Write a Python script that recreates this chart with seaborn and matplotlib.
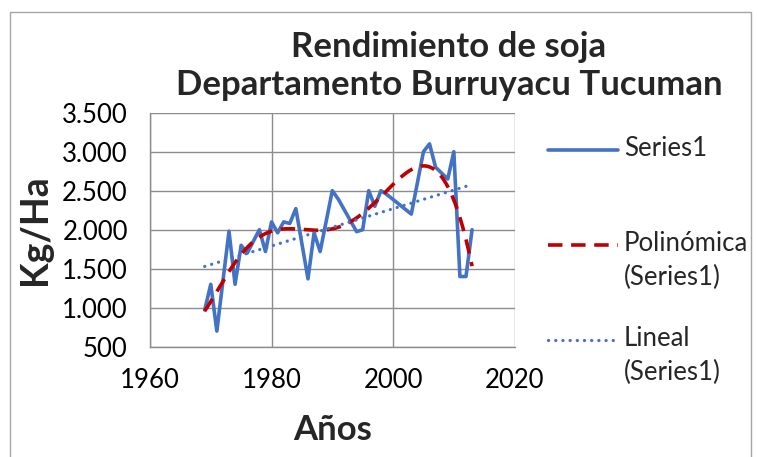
import numpy as np
import pandas as pd
import matplotlib
matplotlib.use("Agg")
import matplotlib.pyplot as plt
from matplotlib.lines import Line2D
from matplotlib.patches import Rectangle
from matplotlib.ticker import FuncFormatter
import seaborn as sns

# values (kg/ha per campaign year)
years = [1969, 1970, 1971, 1973, 1974, 1975, 1976, 1977, 1978, 1979,
         1980, 1981, 1982, 1983, 1984, 1986, 1987, 1988, 1990, 1991,
         1994, 1995, 1996, 1997, 1998, 1999, 2003, 2005, 2006, 2007,
         2009, 2010, 2011, 2012, 2013]
yields = [970, 1300, 700, 1980, 1300, 1800, 1700, 1850, 2000, 1720,
          2100, 1960, 2100, 2080, 2270, 1370, 1960, 1720, 2500, 2390,
          1975, 2000, 2500, 2300, 2500, 2450, 2200, 3000, 3100, 2800,
          2650, 3000, 1400, 1400, 2000]

title = "Rendimiento de soja\nDepartamento Burruyacu Tucuman"
legend_labels = ["Series1", "Polinómica\n(Series1)", "Lineal\n(Series1)"]

BLUE = "#4472C4"
RED = "#C00000"
GRID = "#8c8c8c"

sns.set_style("white")
plt.rcParams["font.family"] = ["Lato", "DejaVu Sans"]

df = pd.DataFrame({"year": years, "kg": yields})

# Excel style trendlines: polynomial (order 6) and linear
xc = df["year"] - 1990
poly = np.polyfit(xc, df["kg"], 6)
lin = np.polyfit(xc, df["kg"], 1)
xs = np.linspace(df["year"].min(), df["year"].max(), 300)
trend = pd.DataFrame({
    "year": xs,
    "poly": np.polyval(poly, xs - 1990),
    "lin": np.polyval(lin, xs - 1990),
})

fig = plt.figure(figsize=(7.58, 4.57), dpi=100)
ax = fig.add_axes([150 / 758, 1 - 346.7 / 457, (514.6 - 150) / 758, (346.7 - 112.7) / 457])

sns.lineplot(data=df, x="year", y="kg", ax=ax, color=BLUE, linewidth=2.6,
             legend=False, zorder=3)
sns.lineplot(data=trend, x="year", y="poly", ax=ax, color=RED, linewidth=2.6,
             legend=False, zorder=4)
sns.lineplot(data=trend, x="year", y="lin", ax=ax, color=BLUE, linewidth=2.3,
             legend=False, zorder=4)
ax.lines[1].set_dashes([4, 2.4])
ax.lines[2].set_linestyle((0, (0.05, 2.2)))
ax.lines[2].set_dash_capstyle("round")

ax.set_xlim(1960, 2020)
ax.set_ylim(500, 3500)
ax.set_xticks([1960, 1980, 2000, 2020])
ax.set_yticks(np.arange(500, 3501, 500))
ax.yaxis.set_major_formatter(FuncFormatter(lambda v, p: f"{v:,.0f}".replace(",", ".")))
ax.grid(True, color=GRID, linewidth=1.0)
for side in ["top", "right"]:
    ax.spines[side].set_visible(False)
for side in ["left", "bottom"]:
    ax.spines[side].set_color(GRID)
    ax.spines[side].set_linewidth(1.0)
ax.tick_params(axis="both", direction="out", length=6, width=1.0, color=GRID,
               labelsize=18.5, labelcolor="black")
ax.tick_params(axis="y", pad=10)
ax.tick_params(axis="x", pad=9)

ax.set_xlabel("Años", fontsize=25, fontweight="bold")
ax.set_ylabel("Kg/Ha", fontsize=27, fontweight="bold")
ax.yaxis.set_label_coords(-0.315, 0.5)
ax.xaxis.set_label_coords(0.5, -0.355)
ax.xaxis.label.set_va("center")
ax.yaxis.label.set_va("center")

fig.text(449 / 758, 1 - 66 / 457, title, ha="center", va="center",
         fontsize=25, fontweight="bold", linespacing=1.25)

# legend drawn in figure pixels so each handle sits on the first text line
def fpt(x, y):
    return x / 758, 1 - y / 457

entries = [
    (150, dict(color=BLUE, linewidth=2.6)),
    (245, dict(color=RED, linewidth=2.6, dashes=[4, 2.4])),
    (340, dict(color=BLUE, linewidth=2.3, linestyle=(0, (0.05, 2.2)),
               dash_capstyle="round")),
]
for (y, style), label in zip(entries, legend_labels):
    x0, yy = fpt(548, y)
    x1, _ = fpt(618, y)
    fig.add_artist(Line2D([x0, x1], [yy, yy], **style))
    tx, ty = fpt(624, y - 14)
    fig.text(tx, ty, label, ha="left", va="top", fontsize=18.5, linespacing=1.42)

fig.add_artist(Rectangle((10 / 758, -0.1), 741 / 758, 1.1 - 12 / 457,
                         fill=False, edgecolor="#a6a6a6", linewidth=1.0))

fig.savefig("out.png", dpi=100)
